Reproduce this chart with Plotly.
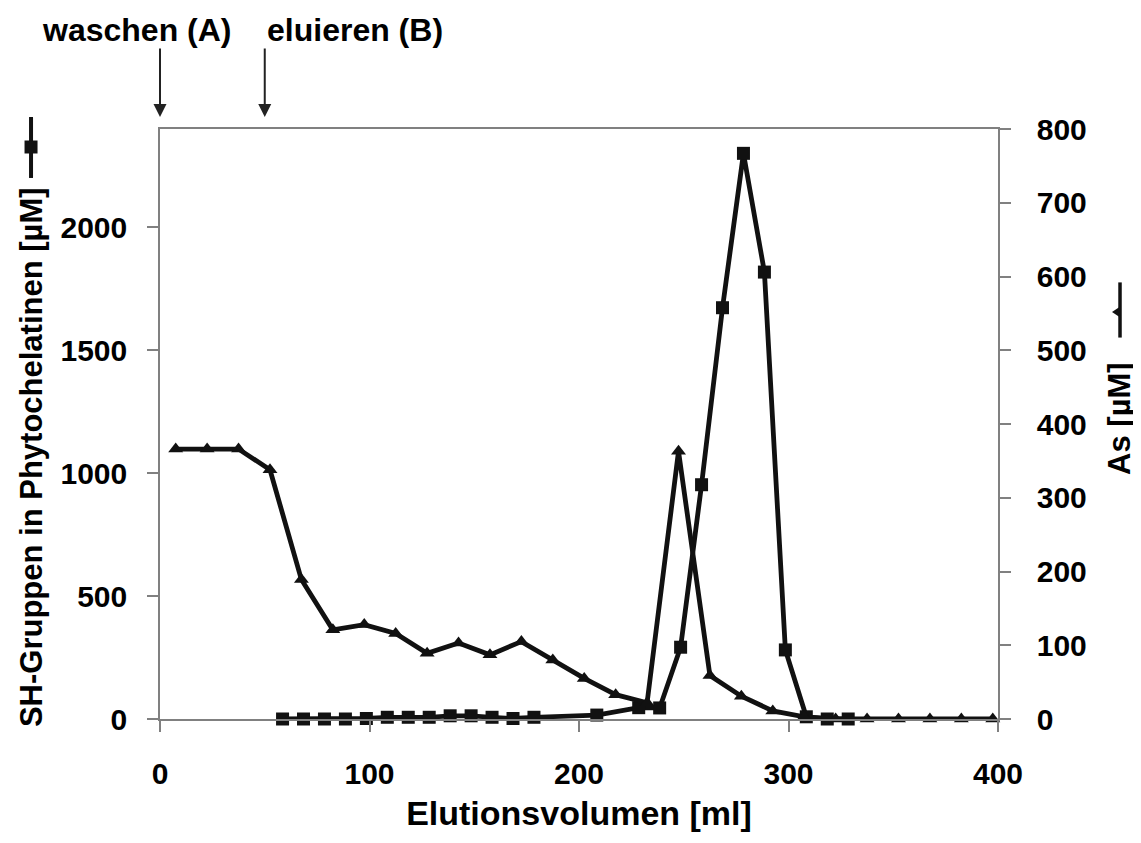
import plotly.graph_objects as go

# SH-Gruppen in Phytochelatinen [µM] (left axis, squares)
sh_x = [58.5, 68.5, 78.5, 88.5, 98.5, 108.5, 118.5, 128.5, 138.5, 148.5, 158.5, 168.5, 178.5,
        208.5, 228.5, 238.5, 248.5, 258.5, 268.5, 278.5, 288.5, 298.5, 308.5, 318.5, 328.5]
sh_y = [0, 0, 0, 0, 2, 7, 7, 7, 13, 13, 7, 2, 7,
        16, 46, 45, 292, 953, 1673, 2301, 1818, 281, 9, 0, 0]

# As [µM] (right axis, triangles)
as_x = [7.5, 22.5, 37.5, 52.5, 67.5, 82.5, 97.5, 112.5, 127.5, 142.5, 157.5, 172.5, 187.5,
        202.5, 217.5, 232.5, 247.5, 262.5, 277.5, 292.5, 307.5, 322.5, 337.5, 352.5, 367.5,
        382.5, 397.5]
as_y = [366, 366, 366, 338, 189, 121, 128, 116, 89, 103, 87, 105, 80,
        55, 33, 22, 363, 59, 31, 11, 3, 0, 0, 0, 0, 0, 0]

x_ticks = [0, 100, 200, 300, 400]
left_ticks = [0, 500, 1000, 1500, 2000]
right_ticks = [0, 100, 200, 300, 400, 500, 600, 700, 800]

x_title = "Elutionsvolumen [ml]"
left_title = "SH-Gruppen in Phytochelatinen [µM]"
right_title = "As [µM]"
phase_labels = ["waschen (A)", "eluieren (B)"]
phase_x = [0, 50]

INK = "#111111"
AXIS = "#808080"
FONT = "Liberation Sans, Arial, sans-serif"

fig = go.Figure()
fig.add_trace(go.Scatter(
    x=sh_x, y=sh_y, mode="lines+markers", yaxis="y",
    line=dict(color=INK, width=4.8),
    marker=dict(symbol="square", size=13, color=INK),
    cliponaxis=False, showlegend=False))
fig.add_trace(go.Scatter(
    x=as_x, y=as_y, mode="lines+markers", yaxis="y2",
    line=dict(color=INK, width=4.8),
    marker=dict(symbol="triangle-up", size=13, color=INK),
    cliponaxis=False, showlegend=False))

tickfont = dict(family=FONT, size=30, color="#000000", weight="bold")
axis_common = dict(showgrid=False, zeroline=False, showline=True, linecolor=AXIS, linewidth=1.5,
                   ticks="outside", ticklen=11, tickcolor=AXIS, tickwidth=1.5, tickfont=tickfont)

# the page body adds an 8px offset; figure size/margins compensate for it
PW, PH = 838.0, 590.3
fig.update_layout(
    width=1133, height=835,
    margin=dict(l=152, r=143, t=121, b=124),
    paper_bgcolor="white", plot_bgcolor="white",
    xaxis=dict(range=[0, 400], tickvals=x_ticks, mirror=True, ticklabelstandoff=16,
               title=dict(text=x_title, font=dict(family=FONT, size=34, color="#000", weight="bold"),
                          standoff=12),
               **axis_common),
    yaxis=dict(range=[0, 2400], tickvals=left_ticks, ticklabelstandoff=14, **axis_common),
    yaxis2=dict(range=[0, 800], tickvals=right_ticks, overlaying="y", side="right",
                ticklabelstandoff=20, **axis_common),
)

title_font = dict(family=FONT, size=31, color="#000", weight="bold")
fig.add_annotation(xref="paper", yref="paper", x=-0.153, y=0.4435, xanchor="center", yanchor="middle",
                   text=left_title, textangle=-90, showarrow=False, font=title_font)
fig.add_annotation(xref="paper", yref="paper", x=1.1456, y=0.5087, xanchor="center", yanchor="middle",
                   text=right_title, textangle=-90, showarrow=False, font=title_font)

# legend keys drawn next to the axis titles (rotated series symbols)
kx_l = -0.1539
fig.add_shape(type="line", xref="paper", yref="paper", x0=kx_l, x1=kx_l, y0=0.917, y1=1.0203,
              line=dict(color=INK, width=4))
fig.add_shape(type="rect", xref="paper", yref="paper",
              x0=kx_l - 6.5 / PW, x1=kx_l + 6.5 / PW, y0=0.9695 - 6.5 / PH, y1=0.9695 + 6.5 / PH,
              fillcolor=INK, line=dict(width=0))
kx_r = 1.1456
fig.add_shape(type="line", xref="paper", yref="paper", x0=kx_r, x1=kx_r, y0=0.6465, y1=0.7400,
              line=dict(color=INK, width=3.5))
tri_y = 0.690
fig.add_shape(type="path", xref="paper", yref="paper",
              path=f"M {kx_r - 8 / PW} {tri_y} L {kx_r + 1 / PW} {tri_y + 6 / PH} "
                   f"L {kx_r + 1 / PW} {tri_y - 6 / PH} Z",
              fillcolor=INK, line=dict(width=0))

label_xpaper = [-0.0275, 0.2328]
for lbl, lx in zip(phase_labels, label_xpaper):
    fig.add_annotation(xref="paper", yref="paper", x=lx, y=1.168, xanchor="center", yanchor="middle",
                       text=lbl, showarrow=False, font=dict(family=FONT, size=32, color="#000", weight="bold"))
for px in phase_x:
    fig.add_annotation(xref="x", yref="paper", x=px, y=1.0203, text="", showarrow=True,
                       ax=0, ay=-70, arrowhead=2, arrowsize=1.3, arrowwidth=2, arrowcolor="#222")

fig.write_html("out.html")
